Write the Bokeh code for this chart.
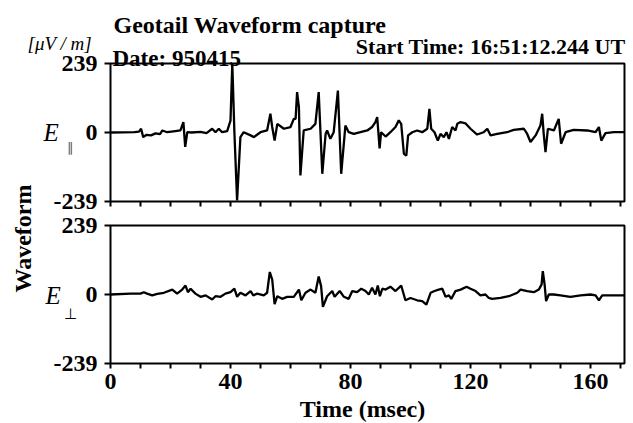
import math
from bokeh.plotting import figure
from bokeh.models import Range1d, FixedTicker, Label, LinearAxis
from bokeh.embed import file_html
from bokeh.resources import INLINE

# ---------------- data ----------------
# E parallel waveform  [time (msec), field (uV/m)]
t_par = [0, 8, 9.5, 10.2, 10.9, 12, 13.5, 15, 16.5, 17.3, 18.9, 21, 23.3, 24.3, 24.9, 25.6,
         27, 30, 32, 33.9, 35, 36.1, 37.2, 38.9, 40, 40.6, 41.3, 42.2, 43.3, 44.4, 46.7,
         47.8, 50, 52.2, 53.3, 53.9, 54.7, 55.6, 57.8, 60, 61.1, 61.7, 62.2, 62.8, 63.3,
         64.4, 66.7, 68.3, 69.4, 70.6, 71.7, 72.2, 73.3, 74.4, 75.8, 76.9, 78.3, 79.4,
         81.1, 83.3, 85.6, 87.2, 88.3, 88.9, 89.7, 90.2, 91.7, 93.3, 95, 96.1, 96.9, 97.8,
         98.6, 99.2, 100.6, 102.2, 103.9, 105.6, 106.3, 106.9, 108, 109.1, 110, 111.1, 112,
         112.8, 113.9, 115, 115.6, 116.7, 118.3, 120, 122.2, 124.4, 125.6, 126.7, 128.9,
         132.2, 134.4, 137.8, 138.9, 140, 141.7, 143.3, 143.9, 144.4, 145, 145.8, 147.8,
         149.4, 150.2, 151.7, 154.4, 158.9, 161.7, 162.8, 163.6, 165, 167.8, 171.3]
e_par = [0, 1, 3, 13, -16, -8, -10, -3, -6, 7, 1, 4, 7, 36, -50, 1,
         0, 2, -2, 13, 1, 13, 1, 5, 41, 239, 0, -235, -16, 1, -10,
         -16, 1, 7, 65, 19, -28, 30, 13, 19, 47, 47, 140, 88, -149,
         7, 13, 30, 140, -143, -5, 7, -22, 1, 145, -143, 24, 1,
         -5, 1, 7, 19, 36, 53, -55, 1, -14, 1, 19, 42, 30, -74,
         -80, -10, 1, 7, 1, 13, 82, 13, 1, -28, -5, -16, 1,
         -22, 19, 7, 30, 36, 32, 13, -7, 1, 13, -10, -5,
         1, 9, 13, -5, -33, -10, 24, 65, -5, -68, 13, 7,
         47, -39, 1, 9, 7, 1, 19, -28, -2, 1, 1]

# E perpendicular waveform
t_perp = [0, 6.7, 10, 11.1, 12.2, 13.9, 15.6, 17.8, 20.6, 22.2, 23.9, 25, 25.8, 26.7, 28.3,
          30, 31.7, 33.9, 35, 36.7, 38.3, 40, 41.3, 42.2, 43.3, 45, 46.7, 47.6, 48.9, 51.1,
          52.2, 53.1, 53.9, 54.7, 55.6, 57.2, 58.9, 61.1, 62.8, 63.6, 65, 66.7, 68.3, 69.4,
          70.2, 70.8, 72.2, 73.9, 74.7, 76.4, 77.8, 79.4, 80.6, 82.2, 83.6, 85, 86.1, 87.2,
          88.3, 89.1, 89.8, 90.6, 91.7, 93.3, 95, 96.9, 98.3, 100, 102.2, 103.9, 105.3,
          106.7, 108, 109.4, 110.6, 111.7, 112.8, 113.6, 115, 116.7, 118.7, 120, 121.7,
          123.3, 125, 126.1, 127.2, 130, 132.8, 135.6, 136.7, 138.9, 141.1, 142.8, 143.7,
          144.1, 144.7, 145.2, 146.1, 147.8, 150, 153.3, 156.7, 160, 161.7, 162.8, 163.9,
          167.8, 171.3]
e_perp = [0, 3, 3, 8, 3, -3, 2, 6, 17, 3, 17, 31, 8, 20, 3,
          -8, -3, -17, -6, -8, 3, 8, 20, -8, 6, -3, 12, -3, 3, -3,
          6, 78, 52, -33, -6, -15, -8, -8, 17, -20, 6, 17, 6, 62,
          29, -43, -6, 12, -8, 12, -8, -15, 12, 8, 20, 12, 0, 23,
          0, 31, -6, 20, 17, 27, 12, 31, -20, -12, -20, -23, -35,
          6, 12, 17, 20, -8, -3, -15, 12, 17, 27, 20, 12,
          -3, 0, -12, -15, -12, -6, 6, 17, 12, 8, 17, 35,
          81, 35, -23, 0, 0, -3, -8, -3, 0, -3, -20, -3,
          -3, -3]

y_tick_values = [-239, 0, 239]
y_tick_labels = ["-239", "0", "239"]
x_major_ticks = [0, 40, 80, 120, 160]
x_minor_ticks = [10, 20, 30, 50, 60, 70, 90, 100, 110, 130, 140, 150, 170]
T_MAX = 171.33
FULL = 239

# ---------------- layout geometry (canvas == frame == page) ----------------
W, H = 633, 423
MS_PER_PX = 1 / 3               # time axis scale
X0_PX = 110                     # column of t = 0
PANEL_PX = 138
SCALE = 2 * FULL / PANEL_PX     # field units per pixel
TOP_ZERO = 291                  # rows (from bottom) of the panels' zero lines
BOT_ZERO = 129
SERIF = "Liberation Serif"

p = figure(width=W, height=H,
           x_range=Range1d(-X0_PX * MS_PER_PX, (W - X0_PX) * MS_PER_PX),
           y_range=Range1d(0, H),
           x_axis_type=None, y_axis_type=None,
           output_backend="svg", toolbar_location=None,
           min_border=0, min_border_left=0, min_border_right=0,
           min_border_top=0, min_border_bottom=0)
p.extra_y_ranges = {
    "top": Range1d((0 - TOP_ZERO) * SCALE, (H - TOP_ZERO) * SCALE),
    "bot": Range1d((0 - BOT_ZERO) * SCALE, (H - BOT_ZERO) * SCALE),
}
p.extra_x_ranges = {"px": Range1d(0, W)}
p.grid.visible = False
p.outline_line_color = None
p.background_fill_color = "white"
p.border_fill_color = "white"

# ---- left axis carrying the ticks of both panels ----
ticks, overrides = [], {}
for zero in (TOP_ZERO, BOT_ZERO):
    for v, lab in zip(y_tick_values, y_tick_labels):
        pos = int(round(zero + v / SCALE))
        ticks.append(pos)
        overrides[pos] = lab
yax = LinearAxis(ticker=FixedTicker(ticks=ticks), major_label_overrides=overrides,
                 fixed_location=0)
yax.axis_line_color = None
yax.major_tick_out = 6
yax.major_tick_in = 0
yax.minor_tick_out = 0
yax.minor_tick_in = 0
yax.major_tick_line_width = 2
yax.major_label_standoff = 7
yax.major_label_text_font = SERIF
yax.major_label_text_font_style = "bold"
yax.major_label_text_font_size = "24px"
yax.major_label_text_color = "black"
p.add_layout(yax, "left")

# ---- time axis under the lower panel ----
bot_edge = BOT_ZERO - FULL / SCALE
xax = LinearAxis(ticker=FixedTicker(ticks=x_major_ticks, minor_ticks=x_minor_ticks),
                 fixed_location=bot_edge)
xax.axis_line_color = None
xax.major_tick_out = 5
xax.major_tick_in = 0
xax.minor_tick_out = 5
xax.minor_tick_in = 0
xax.major_tick_line_width = 2
xax.minor_tick_line_width = 2
xax.major_label_standoff = 5
xax.major_label_text_font = SERIF
xax.major_label_text_font_style = "bold"
xax.major_label_text_font_size = "24px"
xax.major_label_text_color = "black"
p.add_layout(xax, "below")

# ---- tick marks (no labels) under the upper panel ----
top_edge = TOP_ZERO - FULL / SCALE
xax2 = LinearAxis(ticker=FixedTicker(ticks=[], minor_ticks=sorted(x_major_ticks + x_minor_ticks)),
                  fixed_location=top_edge)
xax2.axis_line_color = None
xax2.major_tick_out = 0
xax2.major_tick_in = 0
xax2.minor_tick_out = 5
xax2.minor_tick_in = 0
xax2.minor_tick_line_width = 2
p.add_layout(xax2, "below")

# ---- panel boxes ----
for rng in ("top", "bot"):
    p.quad(left=[0], right=[T_MAX], bottom=[-FULL], top=[FULL], y_range_name=rng,
           fill_color=None, line_color="black", line_width=2)

# ---- waveforms ----
p.line(t_par, e_par, y_range_name="top", line_color="black", line_width=2.3)
p.line(t_perp, e_perp, y_range_name="bot", line_color="black", line_width=2.3)


def lab(x, y, text, size="22px", style="bold", align="left", baseline="alphabetic",
        angle=0.0, color="black"):
    p.add_layout(Label(x=x, y=y, x_range_name="px", text=text, text_font=SERIF,
                       text_font_style=style, text_font_size=size, text_align=align,
                       text_baseline=baseline, angle=angle, text_color=color))


lab(113, 399, "Geotail Waveform capture", size="24px")
lab(27, 380, "[μV / m]", size="19px", style="italic")
lab(112, 365, "Date: 950415", size="23px")
lab(625, 377, "Start Time: 16:51:12.244 UT", align="right")
lab(43, 291, "E", size="25px", style="italic", baseline="middle")
lab(66, 276, "∥", size="13px", style="normal", baseline="middle", color="#555555")
lab(45, 128, "E", size="25px", style="italic", baseline="middle")
lab(63, 110, "⊥", size="15px", style="normal")
lab(22, 185, "Waveform", size="24px", angle=math.pi / 2, align="center", baseline="middle")
lab(362, 15, "Time (msec)", size="24px", align="center")

open("out.html", "w").write(file_html(p, INLINE))
